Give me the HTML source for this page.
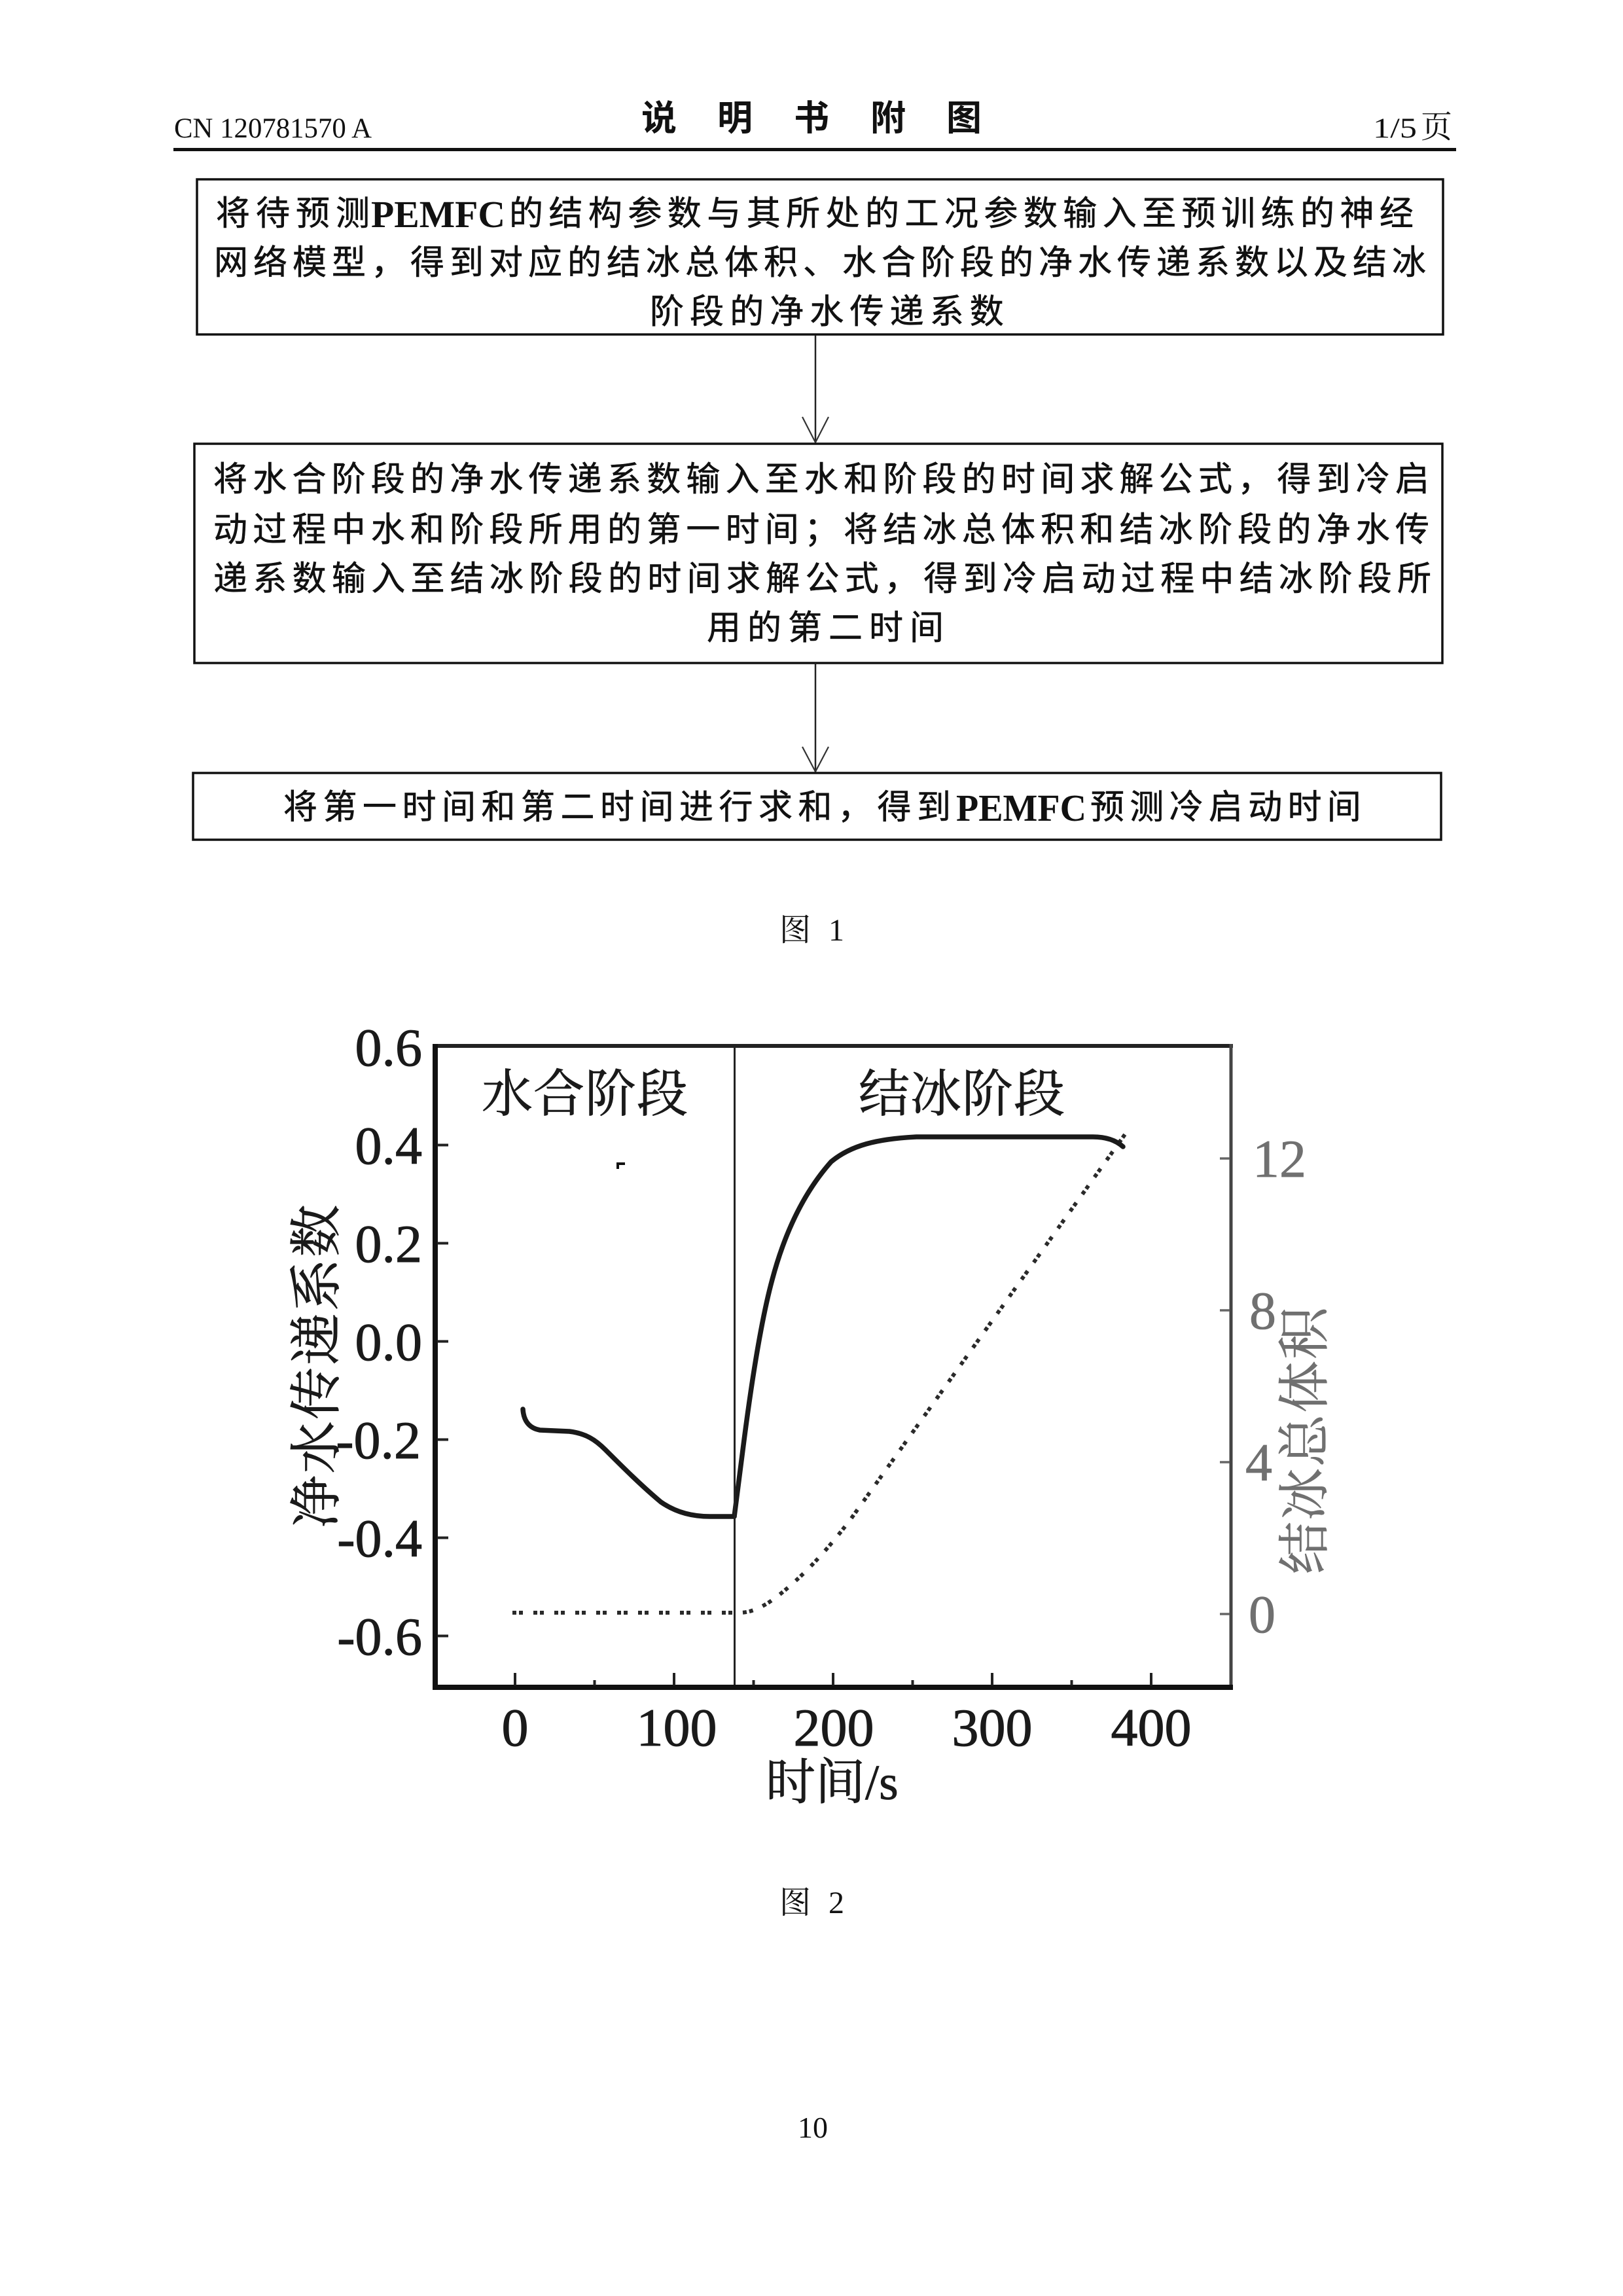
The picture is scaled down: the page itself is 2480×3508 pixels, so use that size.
<!DOCTYPE html>
<html>
<head>
<meta charset="utf-8">
<style>
  html, body { margin: 0; padding: 0; background: #ffffff; }
  svg { display: block; }
  .s { font-family: "Liberation Sans", "Noto Sans CJK SC", sans-serif; font-size: 52px; fill: #111; stroke: #111; stroke-width: 0.6px; }
  .b { font-family: "Liberation Serif", serif; font-weight: bold; font-size: 58px; fill: #111; }
  .hd { font-family: "Liberation Serif", "Noto Serif CJK SC", serif; font-size: 43px; fill: #111; }
  .ttl { font-family: "Liberation Sans", "Noto Sans CJK SC", sans-serif; font-size: 54px; font-weight: bold; fill: #111; }
  .cap { font-family: "Liberation Serif", "Noto Serif CJK SC", serif; font-size: 48px; fill: #111; }
  .tk { font-family: "Liberation Serif", serif; font-size: 82px; fill: #1a1a1a; stroke: #1a1a1a; stroke-width: 1px; }
  .tkr { font-family: "Liberation Serif", serif; font-size: 82px; fill: #707070; stroke: #707070; stroke-width: 0.8px; }
  .cj { font-family: "Liberation Serif", "Noto Serif CJK SC", serif; font-size: 78px; fill: #1a1a1a; stroke: #1a1a1a; stroke-width: 0.8px; }
</style>
</head>
<body>
<svg width="2480" height="3508" viewBox="0 0 2480 3508" xmlns="http://www.w3.org/2000/svg">
  <rect x="0" y="0" width="2480" height="3508" fill="#ffffff"/>

  <!-- Header -->
  <text class="hd" x="266" y="210" textLength="302" lengthAdjust="spacingAndGlyphs">CN 120781570 A</text>
  <text class="ttl" x="980" y="199">说</text>
  <text class="ttl" x="1096" y="199">明</text>
  <text class="ttl" x="1213" y="199">书</text>
  <text class="ttl" x="1330" y="199">附</text>
  <text class="ttl" x="1446" y="199">图</text>
  <text class="hd" x="2098" y="210" textLength="67" lengthAdjust="spacingAndGlyphs">1/5</text>
  <text class="hd" x="2171" y="210" style="font-size:48px">页</text>
  <rect x="265" y="226" width="1960" height="5" fill="#111"/>

  <!-- Box 1 -->
  <rect x="301" y="274" width="1904" height="237" fill="none" stroke="#111" stroke-width="3.5"/>
  <text class="s" x="330" y="344" style="letter-spacing:9px">将待预测</text>
  <text class="b" x="567" y="347" textLength="205" lengthAdjust="spacingAndGlyphs">PEMFC</text>
  <text class="s" x="778" y="344" style="letter-spacing:8.45px">的结构参数与其所处的工况参数输入至预训练的神经</text>
  <text class="s" x="327" y="419" style="letter-spacing:8px">网络模型，得到对应的结冰总体积、水合阶段的净水传递系数以及结冰</text>
  <text class="s" x="993" y="494" style="letter-spacing:9.1px">阶段的净水传递系数</text>

  <!-- Arrow 1 -->
  <line x1="1246" y1="512" x2="1246" y2="676" stroke="#222" stroke-width="2.5"/>
  <polyline points="1226,637 1246,676 1266,637" fill="none" stroke="#333" stroke-width="2.2"/>

  <!-- Box 2 -->
  <rect x="297" y="678" width="1907" height="335" fill="none" stroke="#111" stroke-width="3.5"/>
  <text class="s" x="326" y="750" style="letter-spacing:8.2px">将水合阶段的净水传递系数输入至水和阶段的时间求解公式，得到冷启</text>
  <text class="s" x="326" y="827" style="letter-spacing:8.2px">动过程中水和阶段所用的第一时间；将结冰总体积和结冰阶段的净水传</text>
  <text class="s" x="326" y="902" style="letter-spacing:8.3px">递系数输入至结冰阶段的时间求解公式，得到冷启动过程中结冰阶段所</text>
  <text class="s" x="1080" y="977" style="letter-spacing:10px">用的第二时间</text>

  <!-- Arrow 2 -->
  <line x1="1246" y1="1013" x2="1246" y2="1179" stroke="#222" stroke-width="2.5"/>
  <polyline points="1226,1141 1246,1179 1266,1141" fill="none" stroke="#333" stroke-width="2.2"/>

  <!-- Box 3 -->
  <rect x="295" y="1181" width="1907" height="102" fill="none" stroke="#111" stroke-width="3.5"/>
  <text class="s" x="433" y="1251" style="letter-spacing:8.5px">将第一时间和第二时间进行求和，得到</text>
  <text class="b" x="1461" y="1254" textLength="199" lengthAdjust="spacingAndGlyphs">PEMFC</text>
  <text class="s" x="1666" y="1251" style="letter-spacing:8.3px">预测冷启动时间</text>

  <!-- Caption 1 -->
  <text class="cap" x="1191" y="1437">图</text>
  <text class="cap" x="1266" y="1437">1</text>

  <!-- ============ CHART ============ -->
  <text class="cj" x="736" y="1698" style="letter-spacing:1px">水合阶段</text>
  <text class="cj" x="1312" y="1698" style="letter-spacing:1px">结冰阶段</text>

  <path d="M942,1776 h13 v4 h-9 v6 h-4 z" fill="#111"/>

  <!-- dotted ice-volume curve -->
  <path d="M783,2464 L1130,2464 C1160,2464 1190,2440 1230,2402 C1260,2372 1280,2347 1300,2321 L1722,1729"
        fill="none" stroke="#2a2a2a" stroke-width="6" stroke-dasharray="6 4 6 16"/>

  <!-- solid curve -->
  <path d="M799,2153 C800,2170 808,2182 825,2185 L870,2187 C895,2190 910,2200 925,2215 C950,2240 980,2270 1010,2295 C1035,2312 1060,2317 1085,2317 L1122,2317"
        fill="none" stroke="#1a1a1a" stroke-width="7.5" stroke-linecap="round" stroke-linejoin="round"/>
  <path d="M1122,2317 L1137,2200 C1150,2100 1165,2010 1180,1955 C1200,1880 1230,1820 1270,1775 C1300,1750 1340,1740 1400,1737 L1670,1737 C1690,1737 1705,1742 1716,1752"
        fill="none" stroke="#1a1a1a" stroke-width="7.5" stroke-linecap="round" stroke-linejoin="round"/>

  <line x1="1122.5" y1="1598" x2="1122.5" y2="2578" stroke="#222" stroke-width="3"/>

  <!-- frame -->
  <line x1="661" y1="1598" x2="1884" y2="1598" stroke="#222" stroke-width="6"/>
  <line x1="1881" y1="1595" x2="1881" y2="2582" stroke="#444" stroke-width="5"/>
  <line x1="665" y1="1595" x2="665" y2="2582" stroke="#111" stroke-width="8"/>
  <line x1="661" y1="2578" x2="1884" y2="2578" stroke="#111" stroke-width="8"/>

  <g stroke="#222" stroke-width="4">
    <line x1="668" y1="1749.5" x2="685" y2="1749.5"/>
    <line x1="668" y1="1899.5" x2="685" y2="1899.5"/>
    <line x1="668" y1="2049.5" x2="685" y2="2049.5"/>
    <line x1="668" y1="2199.5" x2="685" y2="2199.5"/>
    <line x1="668" y1="2349.5" x2="685" y2="2349.5"/>
    <line x1="668" y1="2499.5" x2="685" y2="2499.5"/>
  </g>
  <g stroke="#222" stroke-width="4">
    <line x1="787" y1="2575" x2="787" y2="2556"/>
    <line x1="1030" y1="2575" x2="1030" y2="2556"/>
    <line x1="1273" y1="2575" x2="1273" y2="2556"/>
    <line x1="1516" y1="2575" x2="1516" y2="2556"/>
    <line x1="1759" y1="2575" x2="1759" y2="2556"/>
    <line x1="908.5" y1="2575" x2="908.5" y2="2567"/>
    <line x1="1151.5" y1="2575" x2="1151.5" y2="2567"/>
    <line x1="1394.5" y1="2575" x2="1394.5" y2="2567"/>
    <line x1="1637.5" y1="2575" x2="1637.5" y2="2567"/>
  </g>
  <g stroke="#666" stroke-width="3.5">
    <line x1="1864" y1="1770" x2="1879" y2="1770"/>
    <line x1="1864" y1="2002" x2="1879" y2="2002"/>
    <line x1="1864" y1="2234" x2="1879" y2="2234"/>
    <line x1="1864" y1="2466" x2="1879" y2="2466"/>
  </g>

  <g text-anchor="end">
    <text class="tk" x="645" y="1628">0.6</text>
    <text class="tk" x="645" y="1778">0.4</text>
    <text class="tk" x="645" y="1928">0.2</text>
    <text class="tk" x="645" y="2078">0.0</text>
    <text class="tk" x="643" y="2228">-0.2</text>
    <text class="tk" x="645" y="2378">-0.4</text>
    <text class="tk" x="645" y="2528">-0.6</text>
  </g>

  <g text-anchor="middle">
    <text class="tk" x="787" y="2667">0</text>
    <text class="tk" x="1034" y="2667">100</text>
    <text class="tk" x="1274" y="2667">200</text>
    <text class="tk" x="1516" y="2667">300</text>
    <text class="tk" x="1759" y="2667">400</text>
  </g>

  <text class="tkr" x="1914" y="1798">12</text>
  <text class="tkr" x="1909" y="2030">8</text>
  <text class="tkr" x="1903" y="2262">4</text>
  <text class="tkr" x="1908" y="2494">0</text>

  <text x="1170" y="2749" style="font-family:'Liberation Serif','Noto Serif CJK SC',serif;font-size:76px;fill:#1a1a1a;stroke:#1a1a1a;stroke-width:0.8px">时间/s</text>

  <g transform="translate(480,2086) rotate(-90)">
    <text x="0" y="31" text-anchor="middle" style="font-family:'Liberation Serif','Noto Serif CJK SC',serif;font-size:80px;letter-spacing:2.7px;fill:#1a1a1a;stroke:#1a1a1a;stroke-width:0.8px">净水传递系数</text>
  </g>

  <g transform="translate(1990,2200) rotate(-90)">
    <text x="0" y="31" text-anchor="middle" style="font-family:'Liberation Serif','Noto Serif CJK SC',serif;font-size:80px;letter-spacing:2px;fill:#707070;stroke:#707070;stroke-width:0.6px">结冰总体积</text>
  </g>

  <text class="cap" x="1191" y="2923">图</text>
  <text class="cap" x="1266" y="2923">2</text>

  <text class="cap" x="1219" y="3266" style="font-size:46px">10</text>
</svg>
</body>
</html>
